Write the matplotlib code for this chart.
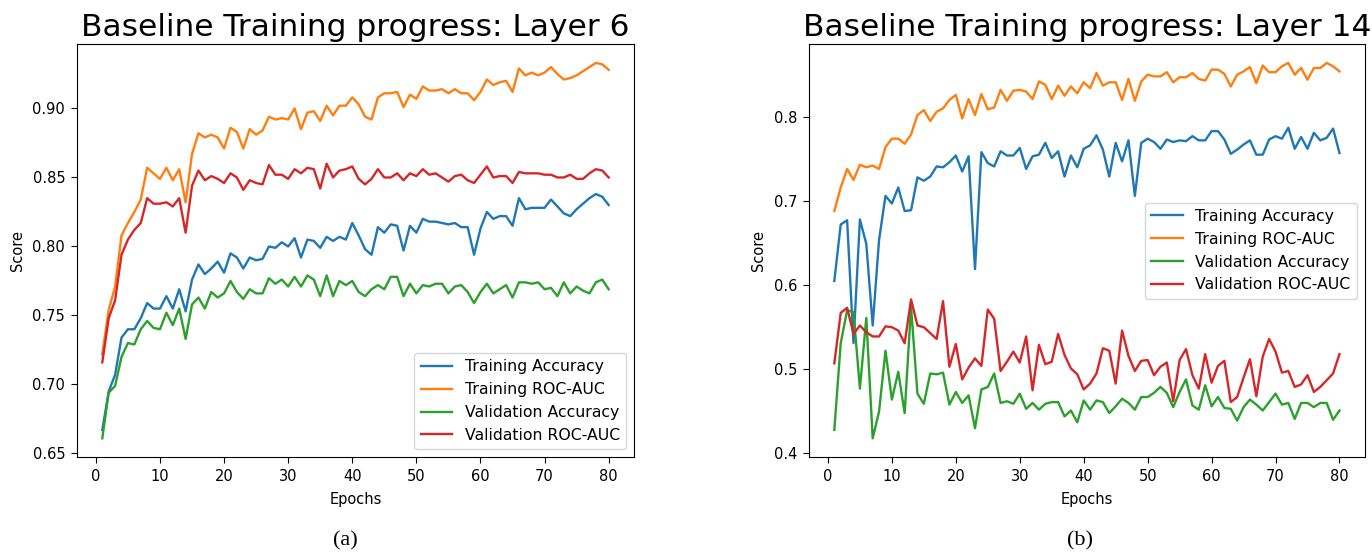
import numpy as np
import matplotlib
matplotlib.use("Agg")
import matplotlib.pyplot as plt

epochs = np.arange(1, 81)

# Layer 6
l6_train_acc = [0.667, 0.695, 0.707, 0.734, 0.740, 0.740, 0.748, 0.759, 0.755, 0.755,
                0.764, 0.755, 0.769, 0.753, 0.776, 0.787, 0.780, 0.784, 0.789, 0.781,
                0.795, 0.792, 0.784, 0.792, 0.790, 0.791, 0.800, 0.799, 0.803, 0.800,
                0.806, 0.792, 0.805, 0.804, 0.799, 0.807, 0.804, 0.807, 0.805, 0.817,
                0.808, 0.798, 0.794, 0.814, 0.810, 0.816, 0.815, 0.797, 0.815, 0.810,
                0.820, 0.818, 0.818, 0.817, 0.816, 0.817, 0.814, 0.814, 0.794, 0.813,
                0.825, 0.820, 0.822, 0.822, 0.815, 0.835, 0.827, 0.828, 0.828, 0.828,
                0.834, 0.829, 0.824, 0.822, 0.827, 0.831, 0.835, 0.838, 0.836, 0.830]
l6_train_auc = [0.722, 0.754, 0.771, 0.808, 0.817, 0.825, 0.834, 0.857, 0.853, 0.849,
                0.857, 0.848, 0.856, 0.832, 0.867, 0.882, 0.879, 0.881, 0.879, 0.871,
                0.886, 0.883, 0.871, 0.885, 0.881, 0.884, 0.894, 0.892, 0.893, 0.892,
                0.900, 0.885, 0.897, 0.898, 0.891, 0.902, 0.895, 0.902, 0.902, 0.908,
                0.903, 0.894, 0.892, 0.908, 0.911, 0.911, 0.912, 0.901, 0.910, 0.907,
                0.916, 0.913, 0.913, 0.914, 0.911, 0.914, 0.911, 0.911, 0.906, 0.912,
                0.921, 0.917, 0.919, 0.920, 0.912, 0.929, 0.924, 0.926, 0.924, 0.926,
                0.930, 0.925, 0.921, 0.922, 0.924, 0.927, 0.930, 0.933, 0.932, 0.928]
l6_val_acc = [0.661, 0.694, 0.699, 0.720, 0.730, 0.729, 0.740, 0.746, 0.741, 0.740,
              0.752, 0.743, 0.755, 0.733, 0.758, 0.763, 0.755, 0.767, 0.763, 0.766,
              0.775, 0.767, 0.762, 0.769, 0.766, 0.766, 0.777, 0.773, 0.776, 0.771,
              0.778, 0.771, 0.779, 0.776, 0.764, 0.779, 0.764, 0.775, 0.772, 0.775,
              0.767, 0.764, 0.769, 0.772, 0.769, 0.778, 0.778, 0.764, 0.773, 0.766,
              0.772, 0.771, 0.773, 0.773, 0.766, 0.771, 0.772, 0.767, 0.759, 0.767,
              0.773, 0.766, 0.769, 0.772, 0.763, 0.774, 0.774, 0.773, 0.774, 0.769,
              0.770, 0.764, 0.774, 0.766, 0.771, 0.768, 0.766, 0.774, 0.776, 0.769]
l6_val_auc = [0.716, 0.748, 0.761, 0.794, 0.805, 0.812, 0.817, 0.835, 0.831, 0.831,
              0.832, 0.829, 0.835, 0.810, 0.844, 0.855, 0.848, 0.851, 0.849, 0.846,
              0.853, 0.850, 0.841, 0.848, 0.846, 0.845, 0.859, 0.852, 0.852, 0.849,
              0.856, 0.853, 0.857, 0.856, 0.842, 0.860, 0.850, 0.855, 0.856, 0.858,
              0.849, 0.845, 0.849, 0.856, 0.850, 0.850, 0.853, 0.848, 0.853, 0.851,
              0.856, 0.852, 0.853, 0.850, 0.847, 0.851, 0.852, 0.848, 0.846, 0.852,
              0.858, 0.850, 0.851, 0.851, 0.846, 0.854, 0.853, 0.853, 0.853, 0.852,
              0.852, 0.850, 0.850, 0.852, 0.849, 0.849, 0.853, 0.856, 0.855, 0.850]

# Layer 14
l14_train_acc = [0.605, 0.672, 0.677, 0.531, 0.678, 0.649, 0.552, 0.654, 0.706, 0.697,
                 0.716, 0.688, 0.689, 0.728, 0.724, 0.729, 0.741, 0.740, 0.746, 0.754,
                 0.735, 0.753, 0.619, 0.758, 0.745, 0.741, 0.759, 0.754, 0.754, 0.763,
                 0.738, 0.753, 0.755, 0.769, 0.751, 0.759, 0.729, 0.754, 0.740, 0.762,
                 0.766, 0.778, 0.761, 0.729, 0.769, 0.747, 0.772, 0.706, 0.769, 0.774,
                 0.770, 0.762, 0.773, 0.770, 0.772, 0.771, 0.777, 0.772, 0.772, 0.783,
                 0.783, 0.773, 0.756, 0.761, 0.767, 0.772, 0.755, 0.755, 0.773, 0.777,
                 0.774, 0.787, 0.762, 0.776, 0.762, 0.781, 0.772, 0.775, 0.786, 0.757]
l14_train_auc = [0.688, 0.716, 0.738, 0.725, 0.743, 0.740, 0.742, 0.738, 0.764, 0.774,
                 0.774, 0.768, 0.779, 0.802, 0.808, 0.795, 0.806, 0.810, 0.820, 0.826,
                 0.798, 0.821, 0.802, 0.827, 0.809, 0.811, 0.832, 0.819, 0.831, 0.832,
                 0.830, 0.821, 0.842, 0.838, 0.821, 0.837, 0.825, 0.836, 0.828, 0.841,
                 0.834, 0.852, 0.837, 0.841, 0.841, 0.820, 0.845, 0.819, 0.842, 0.850,
                 0.848, 0.848, 0.853, 0.841, 0.847, 0.847, 0.852, 0.845, 0.843, 0.856,
                 0.856, 0.851, 0.836, 0.850, 0.854, 0.859, 0.840, 0.861, 0.853, 0.853,
                 0.860, 0.864, 0.850, 0.858, 0.844, 0.858, 0.858, 0.864, 0.860, 0.854]
l14_val_acc = [0.428, 0.531, 0.570, 0.568, 0.477, 0.561, 0.418, 0.450, 0.522, 0.464,
               0.497, 0.448, 0.574, 0.471, 0.459, 0.495, 0.494, 0.496, 0.458, 0.473,
               0.460, 0.469, 0.430, 0.476, 0.479, 0.495, 0.460, 0.462, 0.459, 0.471,
               0.453, 0.460, 0.452, 0.459, 0.461, 0.461, 0.444, 0.451, 0.437, 0.463,
               0.452, 0.463, 0.461, 0.448, 0.456, 0.465, 0.460, 0.452, 0.467, 0.467,
               0.472, 0.479, 0.472, 0.455, 0.473, 0.488, 0.457, 0.452, 0.481, 0.456,
               0.467, 0.454, 0.453, 0.439, 0.455, 0.464, 0.458, 0.451, 0.461, 0.471,
               0.458, 0.460, 0.441, 0.460, 0.460, 0.455, 0.460, 0.460, 0.440, 0.451]
l14_val_auc = [0.507, 0.567, 0.573, 0.542, 0.552, 0.544, 0.539, 0.539, 0.551, 0.550,
               0.546, 0.531, 0.583, 0.552, 0.550, 0.543, 0.536, 0.581, 0.503, 0.530,
               0.488, 0.502, 0.513, 0.504, 0.571, 0.560, 0.498, 0.509, 0.521, 0.508,
               0.539, 0.475, 0.529, 0.506, 0.509, 0.542, 0.517, 0.501, 0.494, 0.476,
               0.483, 0.495, 0.525, 0.522, 0.483, 0.546, 0.516, 0.498, 0.510, 0.511,
               0.493, 0.503, 0.508, 0.462, 0.511, 0.524, 0.493, 0.477, 0.518, 0.484,
               0.504, 0.510, 0.461, 0.467, 0.490, 0.512, 0.468, 0.515, 0.536, 0.521,
               0.496, 0.498, 0.479, 0.482, 0.493, 0.473, 0.479, 0.487, 0.495, 0.518]

labels = ['Training Accuracy', 'Training ROC-AUC', 'Validation Accuracy', 'Validation ROC-AUC']

fig = plt.figure(figsize=(13.72, 5.52), dpi=100)
ax1 = fig.add_axes([0.0561, 0.172, 0.406, 0.748])
ax2 = fig.add_axes([0.5897, 0.172, 0.405, 0.748])

panels = [
    (ax1, [l6_train_acc, l6_train_auc, l6_val_acc, l6_val_auc], 'Layer 6', 'lower right'),
    (ax2, [l14_train_acc, l14_train_auc, l14_val_acc, l14_val_auc], 'Layer 14', 'center right'),
]
for ax, series, layer, loc in panels:
    for s, lab in zip(series, labels):
        ax.plot(epochs, s, label=lab, linewidth=1.7)
    ax.set_title('Baseline Training progress: ' + layer, fontsize=22.5)
    ax.set_xlabel('Epochs', fontsize=10.5, labelpad=6)
    ax.set_ylabel('Score', fontsize=10.5, labelpad=5.5)
    ax.set_xticks(np.arange(0, 81, 10))
    ax.tick_params(labelsize=10.5, length=4, pad=4.5)
    ax.legend(loc=loc, fontsize=11.3)

fig.text(0.252, 0.012, '(a)', ha='center', fontsize=16, family='Liberation Serif')
fig.text(0.787, 0.012, '(b)', ha='center', fontsize=16, family='Liberation Serif')

plt.savefig('out.png', dpi=100)
